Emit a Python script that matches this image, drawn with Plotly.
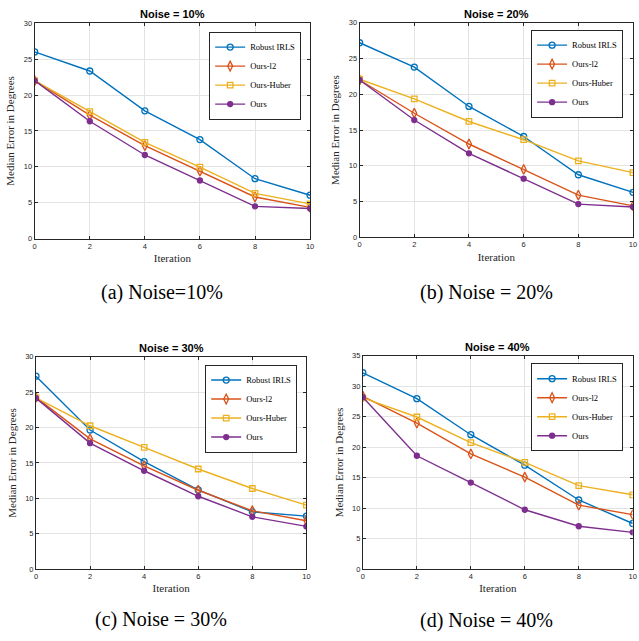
import plotly.graph_objects as go

# ---- data -----------------------------------------------------------------
iterations = [0, 2, 4, 6, 8, 10]
methods = ["Robust IRLS", "Ours-l2", "Ours-Huber", "Ours"]
panel_titles = ["Noise = 10%", "Noise = 20%", "Noise = 30%", "Noise = 40%"]
captions = ["(a) Noise=10%", "(b) Noise = 20%", "(c) Noise = 30%", "(d) Noise = 40%"]

# median rotation error (degrees) per noise level, one row per panel
robust_irls = [
    [26.0, 23.35, 17.8, 13.8, 8.35, 6.05],
    [27.2, 23.8, 18.3, 14.1, 8.75, 6.3],
    [27.25, 19.65, 15.2, 11.2, 8.1, 7.5],
    [32.2, 27.95, 22.05, 17.05, 11.35, 7.5],
]
ours_l2 = [
    [22.0, 17.2, 12.95, 9.4, 5.8, 4.35],
    [22.0, 17.35, 13.05, 9.5, 5.9, 4.4],
    [24.25, 18.4, 14.6, 11.15, 8.25, 6.85],
    [28.35, 23.95, 18.9, 15.1, 10.5, 8.95],
]
ours_huber = [
    [22.0, 17.7, 13.4, 9.95, 6.3, 4.85],
    [22.1, 19.35, 16.2, 13.65, 10.7, 9.05],
    [24.2, 20.25, 17.2, 14.15, 11.4, 9.05],
    [28.1, 24.95, 20.75, 17.5, 13.7, 12.2],
]
ours = [
    [22.0, 16.35, 11.65, 8.1, 4.5, 4.2],
    [22.0, 16.4, 11.75, 8.2, 4.65, 4.25],
    [24.15, 17.8, 13.9, 10.3, 7.4, 6.05],
    [28.2, 18.6, 14.2, 9.75, 7.05, 6.05],
]
y_upper = [30, 30, 30, 35]

# ---- styling ----------------------------------------------------------------
W, H = 639, 641
colors = ["#0072BD", "#D95319", "#EDB120", "#7E2F8E"]
symbols = ["circle-open", "diamond-tall-open", "square-open", "circle"]
msizes = [6, 7, 5.5, 5]
series = [robust_irls, ours_l2, ours_huber, ours]

# plot boxes in pixels: left, right, top, bottom
boxes = [
    (33, 311, 19.5, 238),
    (361, 637, 19, 236.7),
    (34.3, 307.3, 357.7, 573.3),
    (364.3, 636.7, 356.7, 573.3),
]
# legend anchor (right, top) in pixels
legend_pos = [(302, 28), (627, 26), (298, 365.7), (627, 364.3)]
# caption centre (x, y) in pixels
caption_pos = [(162, 293), (489, 293), (161, 624), (489.5, 625)]

SERIF = "Liberation Serif, Times New Roman, serif"
SANS = "Liberation Sans, Arial, sans-serif"
AX = "#262626"

fig = go.Figure()
layout = dict(
    width=W, height=H,
    margin=dict(l=0, r=0, t=0, b=0),
    paper_bgcolor="white", plot_bgcolor="white",
    showlegend=True,
    annotations=[],
)

for p in range(4):
    sfx = "" if p == 0 else str(p + 1)
    xa, ya = "x" + sfx, "y" + sfx
    lg = "legend" + sfx
    for k, name in enumerate(methods):
        fig.add_trace(go.Scatter(
            x=iterations, y=series[k][p], name=name, mode="lines+markers",
            xaxis=xa, yaxis=ya, legend=lg,
            line=dict(color=colors[k], width=1.4),
            marker=dict(symbol=symbols[k], size=msizes[k], color=colors[k],
                        line=dict(color=colors[k], width=1.3)),
        ))
    l, r, t, b = boxes[p]
    common = dict(
        showline=True, linecolor=AX, linewidth=1, mirror="ticks",
        ticks="inside", ticklen=3, tickcolor=AX, tickwidth=1,
        showgrid=True, gridcolor="#e3e3e3", gridwidth=1, zeroline=False,
        tickfont=dict(family=SANS, size=7.5, color=AX),
    )
    layout["xaxis" + sfx] = dict(
        common, domain=[l / W, r / W], anchor=ya, range=[0, 10],
        tickmode="linear", tick0=0, dtick=2,
        title=dict(text="Iteration", font=dict(family=SERIF, size=11, color=AX), standoff=4),
    )
    layout["yaxis" + sfx] = dict(
        common, domain=[1 - b / H, 1 - t / H], anchor=xa, range=[0, y_upper[p]],
        tickmode="linear", tick0=0, dtick=5,
        title=dict(text="Median Error in Degrees", font=dict(family=SERIF, size=11, color=AX), standoff=6),
    )
    lx, ly = legend_pos[p]
    layout[lg] = dict(
        x=lx / W, y=1 - ly / H, xanchor="right", yanchor="top",
        xref="paper", yref="paper",
        bgcolor="white", bordercolor=AX, borderwidth=1,
        font=dict(family=SERIF, size=8.5, color="black"),
        tracegroupgap=0, itemwidth=30,
    )
    layout["annotations"].append(dict(
        text="<b>" + panel_titles[p] + "</b>", xref="paper", yref="paper",
        x=(l + r) / 2 / W, y=1 - t / H, xanchor="center", yanchor="bottom",
        showarrow=False, font=dict(family=SANS, size=11, color="black"), yshift=1,
    ))
    cx, cy = caption_pos[p]
    layout["annotations"].append(dict(
        text=captions[p], xref="paper", yref="paper",
        x=cx / W, y=1 - cy / H, xanchor="center", yanchor="middle",
        showarrow=False, font=dict(family=SERIF, size=20, color="black"),
    ))

fig.update_layout(**layout)
fig.write_html("out.html")
